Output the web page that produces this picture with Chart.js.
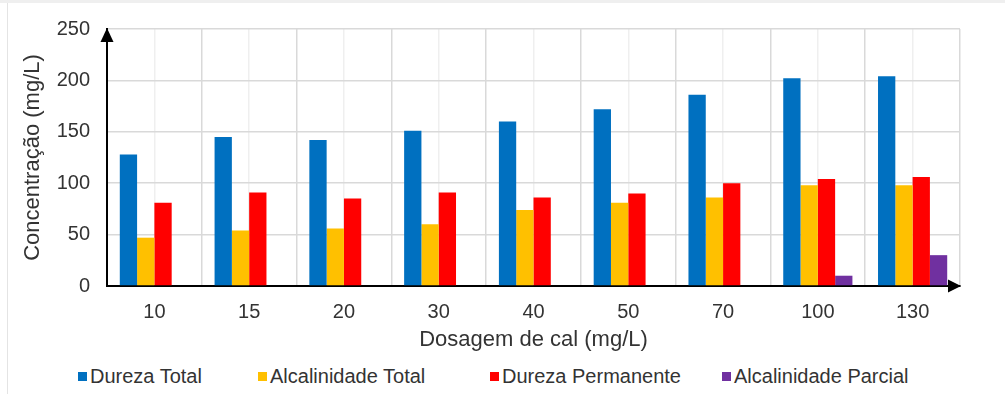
<!DOCTYPE html>
<html>
<head>
<meta charset="utf-8">
<title>Dosagem de cal</title>
<script src="https://cdn.jsdelivr.net/npm/chart.js@4.4.1/dist/chart.umd.min.js"></script>
<style>
  html, body { margin: 0; padding: 0; background: #fff; }
  body { width: 1005px; height: 394px; position: relative; overflow: hidden;
         font-family: "Liberation Sans", Arial, sans-serif; }
  #topEdge { position: absolute; left: 0; top: 0; width: 1005px; height: 3px; background: #efefef; }
  #leftEdge { position: absolute; left: 7px; top: 3px; width: 1px; height: 391px; background: #e4e4e4; }
  #wrap { position: absolute; left: 0; top: 0; width: 1005px; height: 360px; }
  #legend { position: absolute; left: 78px; top: 364px; height: 24px; display: flex;
            align-items: center; font-size: 20px; color: #333; white-space: nowrap; }
  .item { display: flex; align-items: center; }
  .swatch { width: 9px; height: 9px; margin-right: 3px; flex: none; }
</style>
</head>
<body>
<div id="topEdge"></div>
<div id="leftEdge"></div>
<div id="wrap"><canvas id="chart" width="1005" height="360"></canvas></div>
<div id="legend"></div>
<script>
// Dosagem de cal (mg/L)
const categories = ['10', '15', '20', '30', '40', '50', '70', '100', '130'];

// Concentração (mg/L) per dosage
const durezaTotal         = [128, 145, 142, 151, 160, 172, 186, 202, 204];
const alcalinidadeTotal   = [47, 54, 56, 60, 74, 81, 86, 98, 98];
const durezaPermanente    = [81, 91, 85, 91, 86, 90, 100, 104, 106];
const alcalinidadeParcial = [null, null, null, null, null, null, null, 10, 30];

const seriesNames  = ['Dureza Total', 'Alcalinidade Total', 'Dureza Permanente', 'Alcalinidade Parcial'];
const seriesColors = ['#0070C0', '#FFC000', '#FF0000', '#7030A0'];
const seriesValues = [durezaTotal, alcalinidadeTotal, durezaPermanente, alcalinidadeParcial];

const yTicks = [0, 50, 100, 150, 200, 250];

const FONT = '"Liberation Sans", Arial, sans-serif';
const TEXT = '#333333';

// Arrowheads at the ends of both axes
const axisArrows = {
  id: 'axisArrows',
  afterDraw(chart) {
    const { ctx, chartArea: { left, right, top, bottom } } = chart;
    ctx.save();
    ctx.fillStyle = '#000';
    ctx.beginPath();
    ctx.moveTo(left, top - 1);
    ctx.lineTo(left - 6.5, top + 13);
    ctx.lineTo(left + 6.5, top + 13);
    ctx.closePath();
    ctx.fill();
    ctx.beginPath();
    ctx.moveTo(right + 1, bottom);
    ctx.lineTo(right - 12, bottom - 6.5);
    ctx.lineTo(right - 12, bottom + 6.5);
    ctx.closePath();
    ctx.fill();
    ctx.restore();
  }
};

const chart = new Chart(document.getElementById('chart'), {
  type: 'bar',
  data: {
    labels: categories,
    datasets: seriesNames.map((name, i) => ({
      label: name,
      data: seriesValues[i],
      backgroundColor: seriesColors[i],
      borderWidth: 0,
      categoryPercentage: 0.73,
      barPercentage: 1.0
    }))
  },
  options: {
    responsive: false,
    animation: false,
    devicePixelRatio: 1,
    layout: { padding: { left: 0, right: 45, top: 28, bottom: 0 } },
    plugins: {
      legend: { display: false },
      tooltip: { enabled: false }
    },
    scales: {
      x: {
        type: 'category',
        position: 'bottom',
        offset: true,
        grid: { offset: true, color: '#d9d9d9', lineWidth: 1.5, drawTicks: false },
        border: { display: true, color: '#000', width: 2 },
        ticks: { color: TEXT, font: { family: FONT, size: 20 }, padding: 14,
                 maxRotation: 0, autoSkip: false },
        title: { display: true, text: 'Dosagem de cal (mg/L)', color: TEXT,
                 font: { family: FONT, size: 22 }, padding: { top: 0, bottom: 7 } },
        afterFit(scale) { scale.height = 74; }
      },
      xCenter: {
        type: 'category',
        position: 'bottom',
        offset: true,
        grid: { offset: false, color: '#efefef', lineWidth: 1.5, drawTicks: false },
        border: { display: false },
        ticks: { display: false },
        afterFit(scale) { scale.height = 0; }
      },
      y: {
        min: 0,
        max: 250,
        afterBuildTicks(scale) { scale.ticks = yTicks.map(v => ({ value: v })); },
        grid: { color: '#d9d9d9', lineWidth: 1.5, drawTicks: false },
        border: { display: true, color: '#000', width: 2 },
        ticks: { color: TEXT, font: { family: FONT, size: 20 }, padding: 17 },
        title: { display: true, text: 'Concentração (mg/L)', color: TEXT,
                 font: { family: FONT, size: 22 }, padding: { top: 20, bottom: 0 } },
        afterFit(scale) { scale.width = 107; }
      }
    }
  },
  plugins: [axisArrows]
});

// Legend built from the chart's datasets
const legendEl = document.getElementById('legend');
const itemWidths = [180, 232, 232, null];
chart.data.datasets.forEach((ds, i) => {
  const item = document.createElement('div');
  item.className = 'item';
  if (itemWidths[i]) item.style.width = itemWidths[i] + 'px';
  const sw = document.createElement('span');
  sw.className = 'swatch';
  sw.style.background = ds.backgroundColor;
  const tx = document.createElement('span');
  tx.textContent = ds.label;
  item.appendChild(sw);
  item.appendChild(tx);
  legendEl.appendChild(item);
});
</script>
</body>
</html>
